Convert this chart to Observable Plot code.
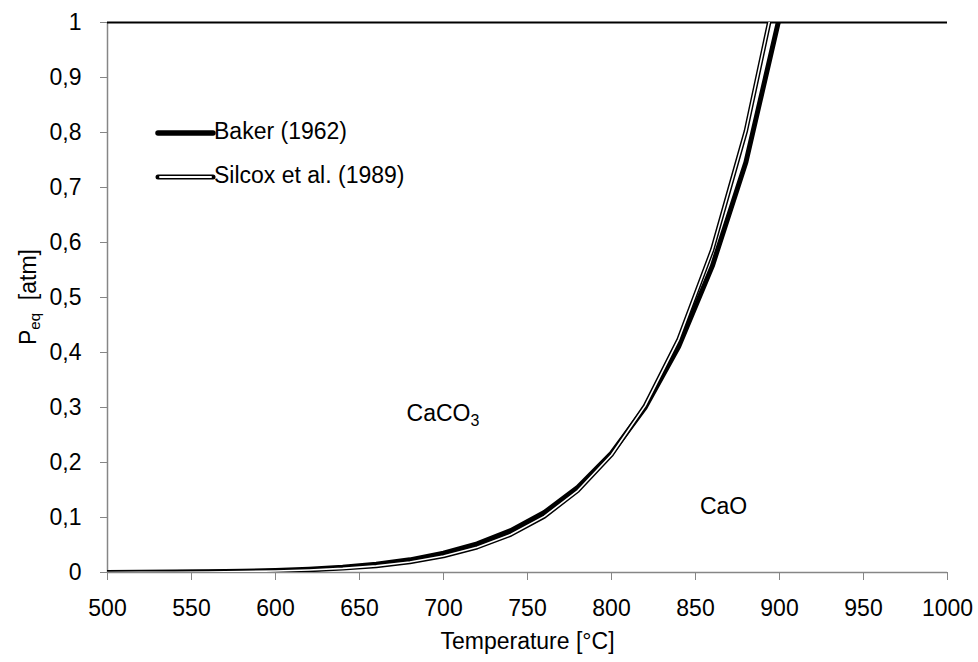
<!DOCTYPE html>
<html>
<head>
<meta charset="utf-8">
<script src="https://cdn.jsdelivr.net/npm/d3@7"></script>
<script src="https://cdn.jsdelivr.net/npm/@observablehq/plot@0.6"></script>
<style>
  html, body { margin: 0; padding: 0; background: #fff; }
  #chart svg { display: block; }
</style>
</head>
<body>
<div id="chart"></div>
<script>
// Equilibrium CO2 pressure over CaCO3 / CaO, two correlations
const temps = [500, 520, 540, 560, 580, 600, 620, 640, 660, 680, 700, 720, 740, 760, 780, 800, 820, 840, 860, 880, 900];
const baker = [0.0002, 0.0004, 0.0007, 0.0013, 0.0022, 0.0037, 0.006, 0.0095, 0.015, 0.023, 0.035, 0.052, 0.076, 0.109, 0.155, 0.217, 0.300, 0.411, 0.557, 0.746, 1.01];
const silcox = [0.0001, 0.0003, 0.0005, 0.0009, 0.0016, 0.0027, 0.0046, 0.0075, 0.012, 0.019, 0.030, 0.046, 0.069, 0.102, 0.149, 0.214, 0.303, 0.424, 0.587, 0.803, 1.088];

const xTicks = [500, 550, 600, 650, 700, 750, 800, 850, 900, 950, 1000];
const yTicks = [0, 0.1, 0.2, 0.3, 0.4, 0.5, 0.6, 0.7, 0.8, 0.9, 1];

const seriesNames = ["Baker (1962)", "Silcox et al. (1989)"];
const phaseLabels = [
  {name: "CaCO", sub: "3", t: 700, p: 0.285},
  {name: "CaO", sub: "", t: 867, p: 0.116}
];

const bakerRows = temps.map((t, i) => ({t, p: baker[i]}));
const silcoxRows = temps.map((t, i) => ({t, p: silcox[i]}));

const FONT = "'Liberation Sans', Arial, sans-serif";
const GRAY = "#868686";
const fmt = d => String(d).replace(".", ",");

const plot = Plot.plot({
  width: 978,
  height: 662,
  marginLeft: 107,
  marginRight: 31,
  marginTop: 22,
  marginBottom: 90,
  style: {fontFamily: FONT, fontSize: "23px", color: "#000", background: "#fff", overflow: "visible"},
  x: {domain: [500, 1000]},
  y: {domain: [0, 1]},
  marks: [
    // tick marks (gray) and tick labels (black)
    Plot.axisX({ticks: xTicks, tickSize: 8, stroke: GRAY, text: null, label: null}),
    Plot.axisX({ticks: xTicks, tickSize: 0, tickPadding: 27, tickFormat: fmt, fill: "#000", label: null}),
    Plot.axisY({ticks: yTicks, tickSize: 7, stroke: GRAY, text: null, label: null}),
    Plot.axisY({ticks: yTicks, tickSize: 0, tickPadding: 26, tickFormat: fmt, fill: "#000", label: null}),
    Plot.ruleX([500], {stroke: GRAY, strokeWidth: 1.5}),
    Plot.ruleY([0], {stroke: GRAY, strokeWidth: 1.5}),
    Plot.ruleY([1], {stroke: "#000", strokeWidth: 2}),
    // Baker: solid heavy line
    Plot.line(bakerRows, {x: "t", y: "p", stroke: "#000", strokeWidth: 5, clip: true}),
    // Silcox: hollow double line
    Plot.line(silcoxRows, {x: "t", y: "p", stroke: "#000", strokeWidth: 4.5, clip: true}),
    Plot.line(silcoxRows, {x: "t", y: "p", stroke: "#fff", strokeWidth: 1.6, clip: true}),
    Plot.text(["Temperature [°C]"], {frameAnchor: "bottom", lineAnchor: "middle", dy: 69, fill: "#000"})
  ]
});

const svg = d3.select(plot);
const sx = plot.scale("x"), sy = plot.scale("y");

// phase region labels with subscript
for (const d of phaseLabels) {
  const tx = svg.append("text")
    .attr("x", sx.apply(d.t)).attr("y", sy.apply(d.p))
    .attr("text-anchor", "middle").attr("dominant-baseline", "middle")
    .attr("font-family", FONT).attr("font-size", 23).attr("fill", "#000");
  tx.append("tspan").text(d.name);
  if (d.sub) tx.append("tspan").attr("font-size", 16).attr("dy", 7).text(d.sub);
}

// y-axis title: P_eq [atm]
const yt = svg.append("text")
  .attr("transform", `translate(30,${(22 + 572) / 2}) rotate(-90)`)
  .attr("text-anchor", "middle").attr("dominant-baseline", "middle")
  .attr("font-family", FONT).attr("font-size", 23).attr("fill", "#000");
yt.append("tspan").text("P");
yt.append("tspan").attr("font-size", 15).attr("dy", 6).text("eq");
yt.append("tspan").attr("dy", -6).text("\u00a0 [atm]");

// legend
const lg = svg.append("g").attr("font-family", FONT).attr("font-size", 23).attr("text-anchor", "start");
const rows = [{y: 133, name: seriesNames[0], hollow: false}, {y: 177, name: seriesNames[1], hollow: true}];
for (const r of rows) {
  lg.append("line").attr("x1", 158).attr("x2", 213).attr("y1", r.y).attr("y2", r.y)
    .attr("stroke", "#000").attr("stroke-width", r.hollow ? 5 : 5.5).attr("stroke-linecap", "round");
  if (r.hollow) {
    lg.append("line").attr("x1", 160).attr("x2", 211).attr("y1", r.y).attr("y2", r.y)
      .attr("stroke", "#fff").attr("stroke-width", 2).attr("stroke-linecap", "round");
  }
  lg.append("text").attr("x", 214).attr("y", r.y).attr("dominant-baseline", "middle")
    .attr("text-anchor", "start").attr("fill", "#000").text(r.name);
}

document.getElementById("chart").appendChild(plot);
</script>
</body>
</html>
